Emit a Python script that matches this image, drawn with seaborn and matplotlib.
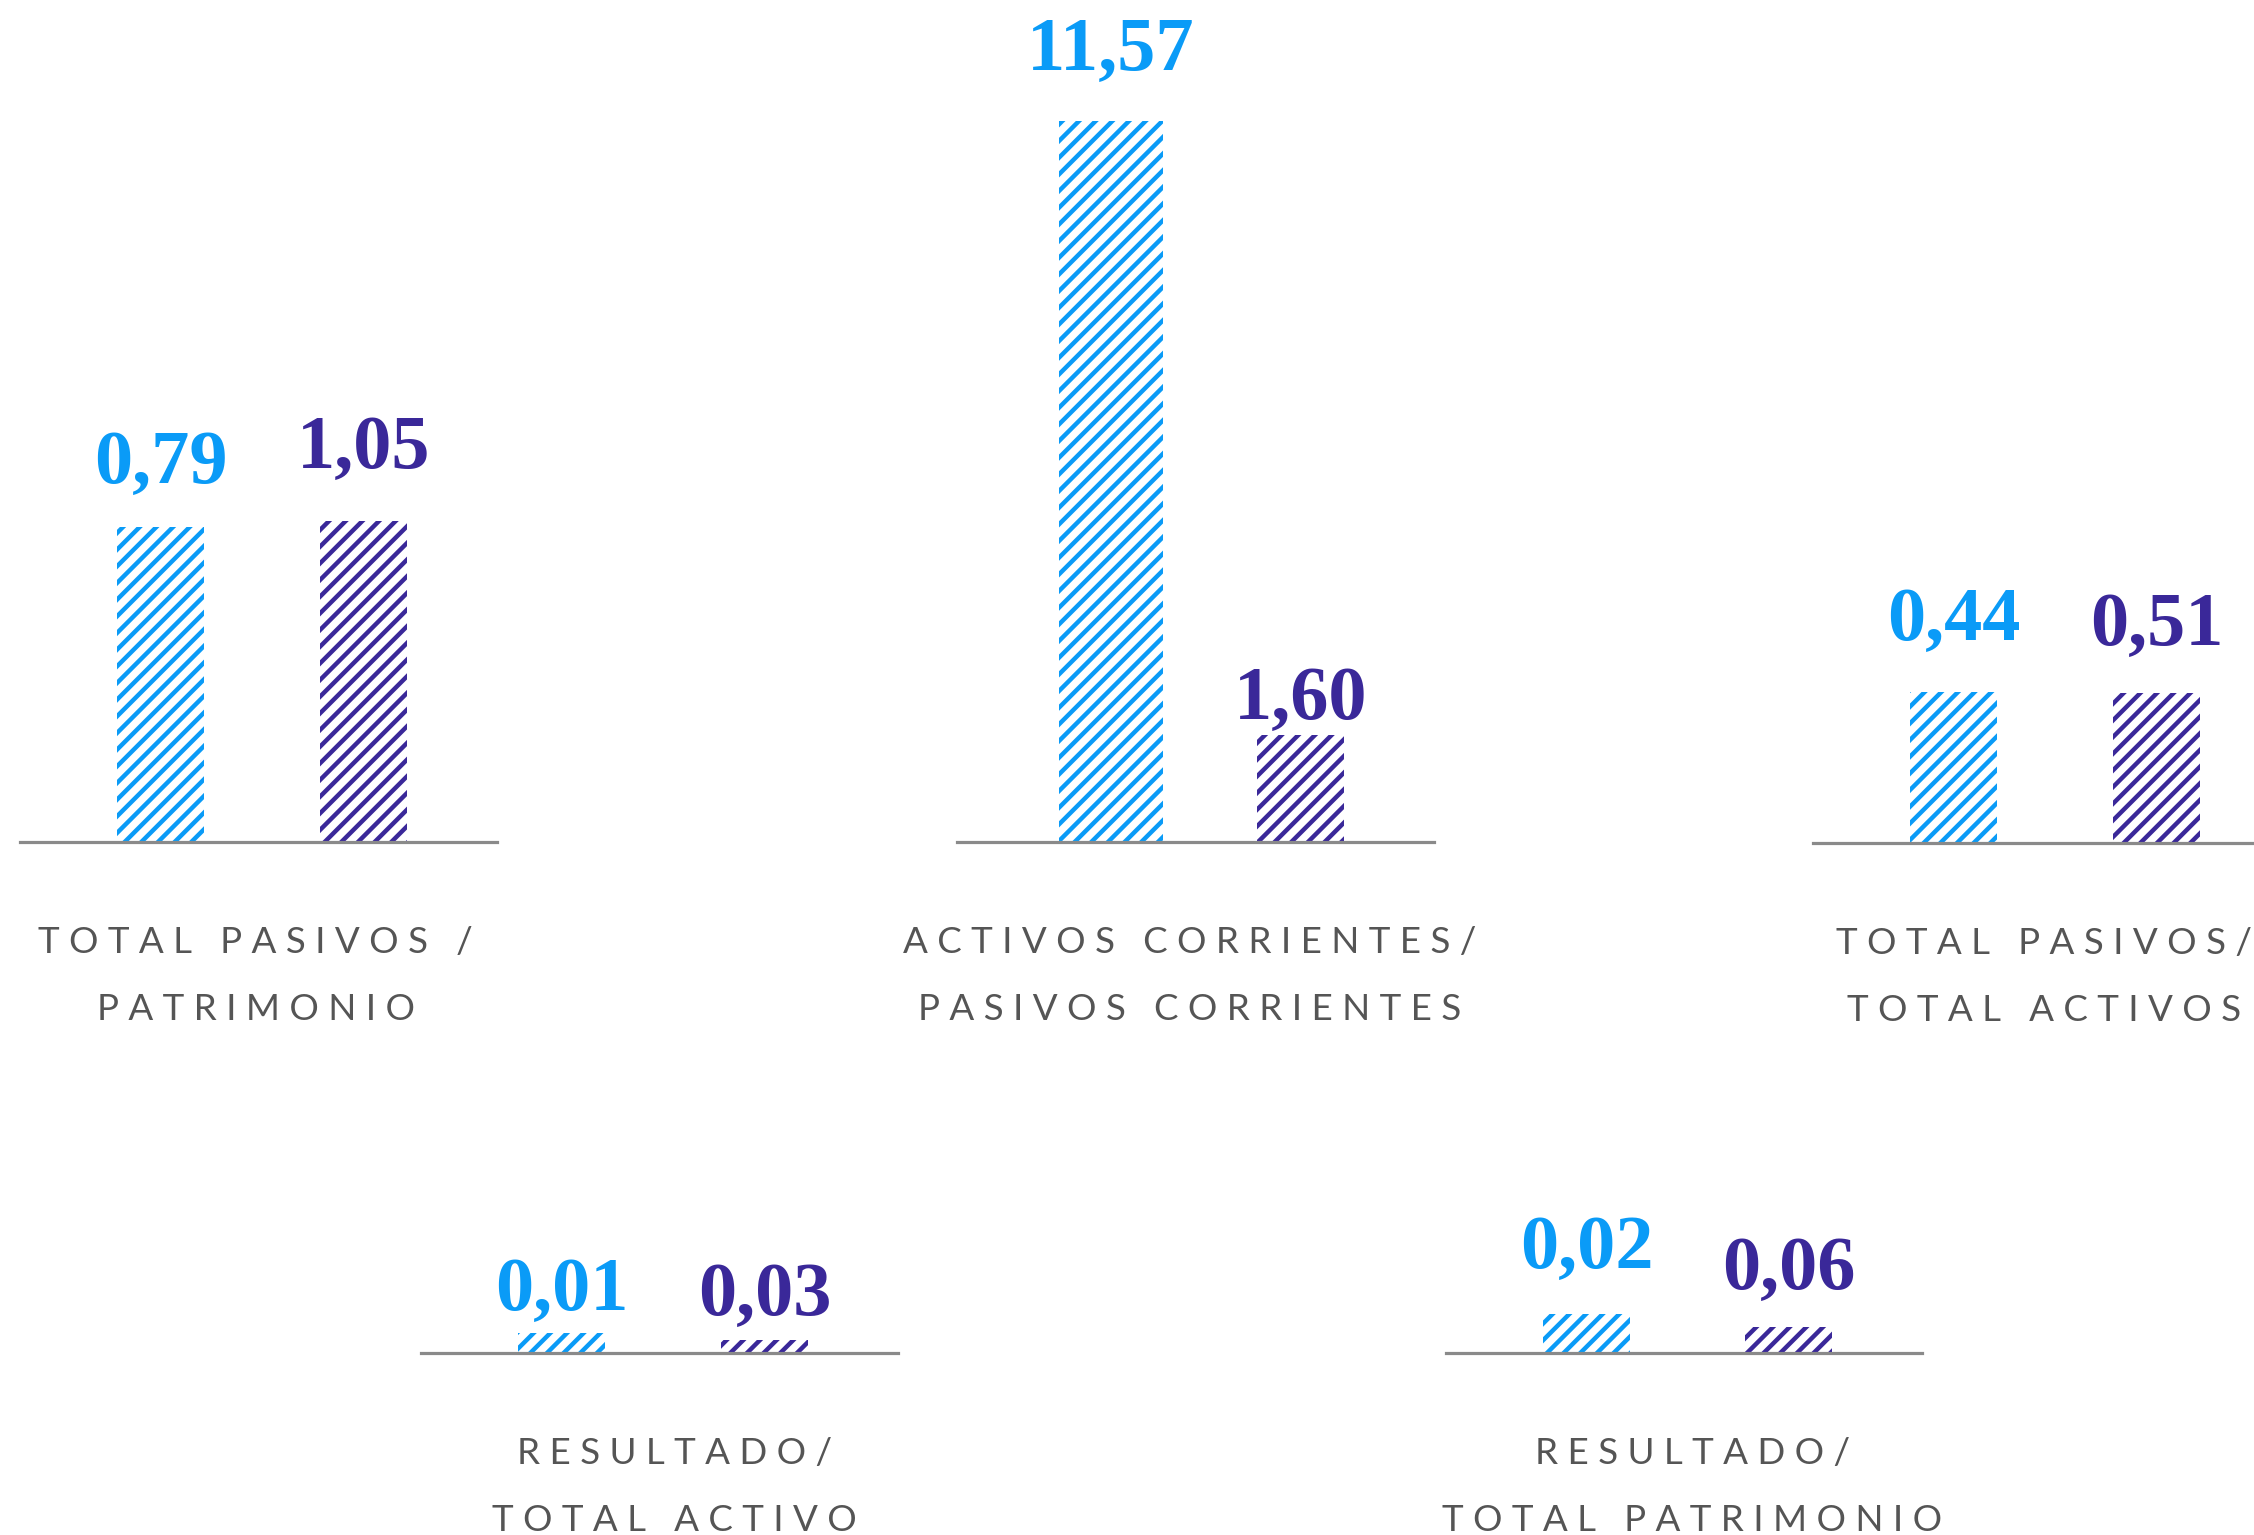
import matplotlib
matplotlib.use("Agg")
import matplotlib.pyplot as plt
import matplotlib.transforms as mtransforms
import seaborn as sns
import pandas as pd

# ---- data ----
panel_titles = [
    ["TOTAL PASIVOS /", "PATRIMONIO"],
    ["ACTIVOS CORRIENTES/", "PASIVOS CORRIENTES"],
    ["TOTAL PASIVOS/", "TOTAL ACTIVOS"],
    ["RESULTADO/", "TOTAL ACTIVO"],
    ["RESULTADO/", "TOTAL PATRIMONIO"],
]
series = ["serie_a", "serie_b"]
value_labels = [
    ["0,79", "1,05"],
    ["11,57", "1,60"],
    ["0,44", "0,51"],
    ["0,01", "0,03"],
    ["0,02", "0,06"],
]
# bar heights as drawn in the infographic (not to a common scale)
bar_heights = [
    [315, 321],
    [721, 107],
    [151, 150],
    [20, 13],
    [39, 26],
]

# ---- style / layout ----
colors = ["#0A9BF7", "#3A2899"]
text_gray = "#555555"
line_gray = "#8a8a8a"
W, H = 2254, 1535

# panel boxes in pixels: (x_left, x_right, baseline_y, top_y)
panels = [
    (20, 497, 842, 0),
    (957, 1434, 842, 0),
    (1813, 2290, 843, 0),
    (421, 898, 1353, 1100),
    (1446, 1922, 1353, 1100),
]
label_gap = [[44, 53], [51, 16], [52, 48], [23, 25], [46, 38]]
title_center = [0.494, 0.487, 0.484, 0.532, 0.517]
xlim = (-0.694, 1.659)
bar_width = 0.43

plt.rcParams["hatch.linewidth"] = 3.2


def spaced(s):
    return " ".join(s)


fig = plt.figure(figsize=(W / 100, H / 100), dpi=100)
fig.patch.set_facecolor("white")

for k, (x0, x1, base, top) in enumerate(panels):
    ax = fig.add_axes([x0 / W, 1 - base / H, (x1 - x0) / W, (base - top) / H])
    df = pd.DataFrame({"serie": series, "altura": bar_heights[k]})
    sns.barplot(data=df, x="serie", y="altura", hue="serie", palette=colors,
                width=bar_width, saturation=1, legend=False, ax=ax)
    for patch, c in zip(ax.patches, colors):
        patch.set_facecolor("none")
        patch.set_edgecolor(c)
        patch.set_linewidth(0)
        patch.set_hatch("//")
        if hasattr(patch, "set_hatch_linewidth"):
            patch.set_hatch_linewidth(3.2)
    if k == 1:
        # the big bar in this panel is a bit wider and sits further right
        p = ax.patches[0]
        p.set_width(0.51)
        p.set_x(0.065 - 0.255)
    ax.set_xlim(*xlim)
    ax.set_ylim(0, base - top)
    ax.axis("off")
    ax.axhline(0, color=line_gray, lw=2.3, clip_on=False, zorder=3)

    for i, (lab, h) in enumerate(zip(value_labels[k], bar_heights[k])):
        p = ax.patches[i]
        cx = p.get_x() + p.get_width() / 2
        ax.text(cx, h + label_gap[k][i], lab, ha="center", va="baseline",
                color=colors[i], fontsize=55, fontweight="bold",
                family="Liberation Serif", clip_on=False)

    trans = mtransforms.blended_transform_factory(ax.transAxes, ax.transData)
    for j, line in enumerate(panel_titles[k]):
        ax.text(title_center[k], -111 - 67 * j, spaced(line), transform=trans,
                ha="center", va="baseline", color=text_gray, fontsize=26.5,
                family="Lato", clip_on=False)

fig.savefig("out.png", dpi=100)
